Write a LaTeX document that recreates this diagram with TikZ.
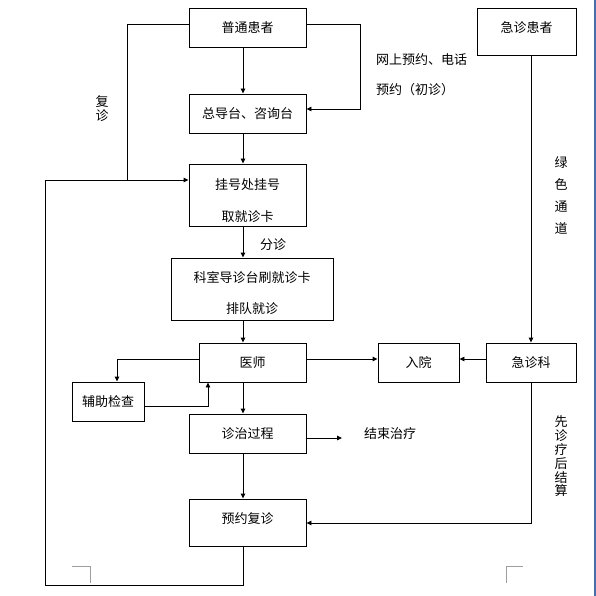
\documentclass[tikz,border=0pt]{standalone}
\usepackage{fontspec}
\newfontfamily\cjk{Noto Sans CJK SC}
\usetikzlibrary{arrows.meta}
\begin{document}
\begin{tikzpicture}[x=1pt,y=-1pt,
  txt/.style={font=\cjk\fontsize{13}{16}\selectfont, inner sep=0pt, align=center},
  box/.style={draw, line width=0.9pt, inner sep=0pt, txt},
  conn/.style={line width=0.9pt},
  arr/.style={conn, -{Triangle[length=5pt,width=4.5pt]}},
  corner/.style={draw=black!38, line width=0.9pt},
]
\useasboundingbox (0,0) rectangle (596,596);
\fill[white] (0,0) rectangle (596,596);
\draw[line width=1.3pt, draw={rgb,255:red,70;green,110;blue,180}] (595,0) -- (595,596);

% boxes
\node[box, minimum width=117pt, minimum height=39pt] (p1) at (247.5,27.5) {普通患者};
\node[box, minimum width=99pt, minimum height=47pt,
      label={[txt,yshift=3.5pt]center:急诊患者}] (e1) at (526.5,31.5) {};
\node[box, minimum width=117pt, minimum height=39pt] (d1) at (247.5,113.5) {总导台、咨询台};
\node[box, minimum width=117pt, minimum height=62pt,
      label={[txt,yshift=-6pt]center:挂号处挂号\\[16pt]取就诊卡}] (g1) at (247.5,195) {};
\node[box, minimum width=162pt, minimum height=62pt,
      label={[txt,yshift=-4.5pt]center:科室导诊台刷就诊卡\\[15pt]排队就诊}] (k1) at (252,289) {};
\node[box, minimum width=107pt, minimum height=39pt] (ys) at (252.5,362.5) {医师};
\node[box, minimum width=72pt, minimum height=39pt] (fz) at (108,401.5) {辅助检查};
\node[box, minimum width=81pt, minimum height=39pt] (ry) at (418.5,362.5) {入院};
\node[box, minimum width=90pt, minimum height=39pt] (jz) at (531,362.5) {急诊科};
\node[box, minimum width=117pt, minimum height=39pt] (zz) at (247.5,433.5) {诊治过程};
\node[box, minimum width=117pt, minimum height=47pt,
      label={[txt,yshift=3.5pt]center:预约复诊}] (yy) at (247.5,522.5) {};

% free texts
\node[txt, anchor=west] (t1) at (376,60) {网上预约、电话};
\node[txt, anchor=west] (t2) at (376,90) {预约（初诊）};
\node[txt] (fdz) at (273,245) {分诊};
\node[txt, font=\cjk\fontsize{13}{13.5}\selectfont] (fuz) at (102,108.5) {复\\诊};
\node[txt, font=\cjk\fontsize{13}{21.7}\selectfont] (lstd) at (561,195.5) {绿\\色\\通\\道};
\node[txt, font=\cjk\fontsize{13}{13.8}\selectfont] (xzl) at (561,456.5) {先\\诊\\疗\\后\\结\\算};
\node[txt] (js) at (390,434) {结束治疗};

% coordinates
\coordinate (cx) at (243,0);
\coordinate (n1) at (360,24);
\coordinate (n2) at (360,109);
\coordinate (m1) at (127,24);
\coordinate (m2) at (127,180);
\coordinate (l1) at (45,180);
\coordinate (l2) at (45,585);
\coordinate (l3) at (243,585);
\coordinate (a1) at (117,359);
\coordinate (a2) at (208,406);
\coordinate (h1) at (0,359);
\coordinate (ex) at (531,0);
\coordinate (end1) at (342,438);
\coordinate (b1) at (531,523);

% connectors
\draw[arr] (p1.south -| cx) -- (d1.north -| cx);
\draw[arr] (p1.east |- n1) -- (n1) -- (n2) -- (d1.east |- n2);
\draw[conn] (p1.west |- m1) -- (m1) -- (m2);
\draw[arr] (yy.south -| cx) -- (l3) -- (l2) -- (l1) -- (g1.west |- l1);
\draw[arr] (d1.south -| cx) -- (g1.north -| cx);
\draw[arr] (g1.south -| cx) -- (k1.north -| cx);
\draw[arr] (k1.south -| cx) -- (ys.north -| cx);
\draw[arr] (ys.west |- a1) -- (a1) -- (a1 |- fz.north);
\draw[arr] (fz.east |- a2) -- (a2) -- (a2 |- ys.south);
\draw[arr] (ys.south -| cx) -- (zz.north -| cx);
\draw[arr] (ys.east |- h1) -- (ry.west |- h1);
\draw[arr] (jz.west |- h1) -- (ry.east |- h1);
\draw[arr] (e1.south -| ex) -- (jz.north -| ex);
\draw[arr] (zz.east |- end1) -- (end1);
\draw[arr] (jz.south -| b1) -- (b1) -- (yy.east |- b1);
\draw[arr] (zz.south -| cx) -- (yy.north -| cx);

% page corner marks
\draw[corner] (72,566) -- (90,566) -- (90,583);
\draw[corner] (523,566) -- (506,566) -- (506,583);
\end{tikzpicture}
\end{document}
